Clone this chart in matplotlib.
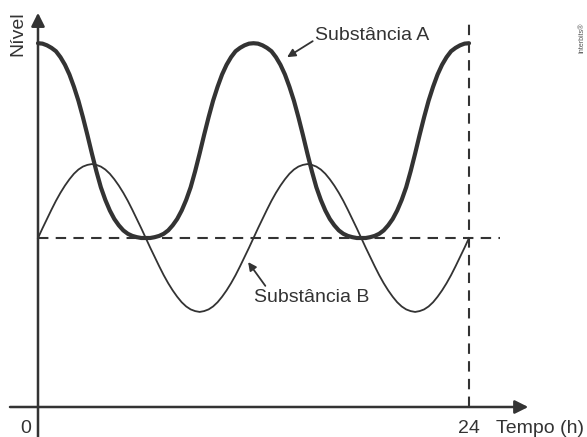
import matplotlib.pyplot as plt

plt.rcParams['font.family'] = ['Liberation Sans', 'DejaVu Sans']

# tempo (h) em passos de 0.25 h
tempo = [i * 0.25 for i in range(97)]

# nivel da substancia A (linha grossa) - um periodo de 12 h
periodo_a = [8.61, 8.60, 8.56, 8.50, 8.42, 8.28, 8.10, 7.87, 7.58, 7.25, 6.86, 6.44,
             6.00, 5.58, 5.20, 4.90, 4.65, 4.45, 4.30, 4.18, 4.10, 4.05, 4.02, 4.00,
             4.00, 4.00, 4.02, 4.05, 4.10, 4.18, 4.30, 4.45, 4.65, 4.90, 5.20, 5.58,
             6.00, 6.44, 6.86, 7.25, 7.58, 7.87, 8.10, 8.28, 8.42, 8.50, 8.56, 8.60]
nivel_a = periodo_a + periodo_a + [8.61]

# nivel da substancia B (linha fina) - um periodo de 12 h
periodo_b = [4.00, 4.23, 4.45, 4.67, 4.88, 5.07, 5.24, 5.39, 5.52, 5.62, 5.69, 5.73,
             5.75, 5.73, 5.69, 5.62, 5.52, 5.39, 5.24, 5.07, 4.88, 4.67, 4.45, 4.23,
             4.00, 3.77, 3.55, 3.33, 3.12, 2.93, 2.76, 2.61, 2.48, 2.38, 2.31, 2.27,
             2.25, 2.27, 2.31, 2.38, 2.48, 2.61, 2.76, 2.93, 3.12, 3.33, 3.55, 3.77]
nivel_b = periodo_b + periodo_b + [4.00]

nivel_ref = 4.0
t_fim = 24
ticks_x = [0, 24]
tick_labels = ['0', '24']

cor = '#333333'

fig = plt.figure(figsize=(5.87, 4.37), dpi=100)
ax = fig.add_axes([0, 0, 1, 1])
ax.set_xlim(-2.116, 30.57)
ax.set_ylim(-0.71, 9.633)
ax.axis('off')

# eixos com setas
ax.annotate('', xy=(27.3, 0), xytext=(-1.56, 0),
            arrowprops=dict(arrowstyle='-|>', color=cor, lw=1.8, mutation_scale=20, shrinkA=0, shrinkB=0))
ax.annotate('', xy=(0, 9.33), xytext=(0, -0.71),
            arrowprops=dict(arrowstyle='-|>', color=cor, lw=1.8, mutation_scale=20, shrinkA=0, shrinkB=0))

# linhas tracejadas
ax.plot([0, 25.7], [nivel_ref, nivel_ref], color=cor, lw=1.5, dashes=(5, 3.5))
ax.plot([t_fim, t_fim], [0, 9.16], color=cor, lw=1.5, dashes=(5, 3.5))

# curvas
ax.plot(tempo, nivel_a, color=cor, lw=3.0, solid_capstyle='round', solid_joinstyle='round')
ax.plot(tempo, nivel_b, color=cor, lw=1.3, solid_joinstyle='round')

# rotulos
ax.text(-1.1, 8.83, 'Nível', rotation=90, ha='center', va='center', fontsize=14, color=cor)
ax.text(ticks_x[0] - 0.7, -0.52, tick_labels[0], ha='center', va='center', fontsize=14, color=cor)
ax.text(ticks_x[1], -0.52, tick_labels[1], ha='center', va='center', fontsize=14, color=cor)
ax.text(25.5, -0.52, 'Tempo (h)', ha='left', va='center', fontsize=14, color=cor)

ax.annotate('Substância A', xy=(13.87, 8.28), xytext=(15.45, 8.80),
            fontsize=14, color=cor, va='center', ha='left',
            arrowprops=dict(arrowstyle='-|>', color=cor, lw=1.3, mutation_scale=12, shrinkA=0, shrinkB=0,
                            relpos=(0.0, 0.25)))
ax.annotate('Substância B', xy=(11.7, 3.43), xytext=(12.0, 2.6),
            fontsize=14, color=cor, va='center', ha='left',
            arrowprops=dict(arrowstyle='-|>', color=cor, lw=1.3, mutation_scale=12, shrinkA=0, shrinkB=0,
                            relpos=(0.12, 1.0)))

ax.text(30.3, 8.75, 'Interbits®', rotation=90, ha='center', va='center', fontsize=5, color='#555555')

fig.savefig('out.png', dpi=100)
